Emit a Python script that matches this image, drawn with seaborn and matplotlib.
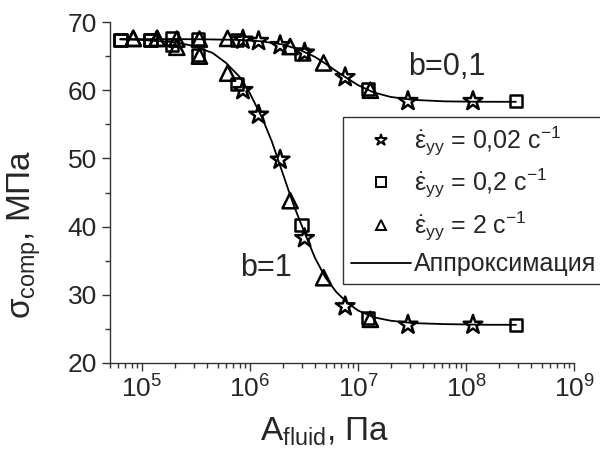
import numpy as np
import pandas as pd
import matplotlib
matplotlib.use("Agg")
import matplotlib.pyplot as plt
import matplotlib.ticker as mticker
from matplotlib.lines import Line2D
import seaborn as sns

# ---------------- data ----------------
star_x = [8.6e5, 1.2e6, 1.9e6, 3.2e6, 7.6e6, 2.9e7, 1.16e8]
star_y_b1 = [60.0, 56.4, 49.8, 38.3, 28.3, 25.6, 25.6]
star_y_b01 = [67.4, 67.2, 66.6, 65.5, 61.9, 58.4, 58.4]

square_x = [6.3e4, 1.2e5, 1.9e5, 3.3e5, 7.6e5, 3.0e6, 1.24e7, 2.9e8]
square_y_b1 = [67.4, 67.4, 66.6, 65.2, 60.9, 40.2, 26.6, 25.6]
square_y_b01 = [67.4, 67.4, 67.6, 67.5, 67.4, 65.3, 60.2, 58.4]

tri_x = [8.3e4, 1.38e5, 2.1e5, 3.4e5, 6.2e5, 2.35e6, 4.8e6, 1.3e7]
tri_y_b1 = [67.6, 67.6, 66.3, 65.0, 62.5, 43.8, 32.5, 26.4]
tri_y_b01 = [67.6, 67.6, 67.5, 67.5, 67.6, 66.4, 64.0, 60.0]

fit_x_b1 = [6.3e4, 1e5, 2e5, 3e5, 4.5e5, 6e5, 8e5, 1e6, 1.3e6, 1.6e6, 2e6, 2.5e6,
            3.2e6, 4e6, 5e6, 6.3e6, 8e6, 1e7, 1.4e7, 2e7, 3.2e7, 6.3e7, 1.6e8, 2.9e8]
fit_y_b1 = [67.45, 67.37, 67.04, 66.5, 65.47, 64.0, 61.97, 59.5, 55.9, 52.4, 47.9, 43.4,
            39.1, 35.4, 32.5, 30.4, 28.8, 27.7, 26.7, 26.2, 25.85, 25.7, 25.6, 25.6]

fit_x_b01 = [6.3e4, 3.2e5, 8e5, 1.26e6, 2e6, 2.8e6, 4e6, 5e6, 6.3e6, 8e6, 1e7,
             1.4e7, 2e7, 3.2e7, 6.3e7, 1.26e8, 2.9e8]
fit_y_b01 = [67.5, 67.48, 67.38, 67.18, 66.71, 66.01, 64.88, 63.89, 62.79, 61.71, 60.75,
             59.67, 59.02, 58.59, 58.37, 58.31, 58.3]

legend_labels = [r"$\dot{\varepsilon}_{yy}$ = 0,02 с$^{-1}$",
                 r"$\dot{\varepsilon}_{yy}$ = 0,2 с$^{-1}$",
                 r"$\dot{\varepsilon}_{yy}$ = 2 с$^{-1}$",
                 "Аппроксимация"]
x_ticks = [1e5, 1e6, 1e7, 1e8, 1e9]
y_ticks = [20, 30, 40, 50, 60, 70]

# ---------------- style ----------------
sns.set_style("ticks")
plt.rcParams["font.family"] = ["Liberation Sans", "DejaVu Sans"]
plt.rcParams["mathtext.fontset"] = "custom"
plt.rcParams["mathtext.rm"] = "Liberation Sans"
plt.rcParams["mathtext.it"] = "Liberation Sans"
plt.rcParams["mathtext.bf"] = "Liberation Sans:bold"
plt.rcParams["mathtext.sf"] = "Liberation Sans"

fig = plt.figure(figsize=(6.0, 4.59), dpi=100)
ax = fig.add_axes([0.1825, 0.2092, 0.7742, 0.7428])

# fit lines
for fx, fy in [(fit_x_b1, fit_y_b1), (fit_x_b01, fit_y_b01)]:
    sns.lineplot(x=fx, y=fy, ax=ax, color="black", lw=1.3, sort=False,
                 estimator=None, legend=False)

# markers
mk_kw = dict(facecolor="none", edgecolor="black", linewidth=1.8, legend=False, zorder=3)
for xs, ys in [(tri_x, tri_y_b1), (tri_x, tri_y_b01)]:
    sns.scatterplot(x=xs, y=ys, ax=ax, marker="^", s=120, **mk_kw)
for xs, ys in [(square_x, square_y_b1), (square_x, square_y_b01)]:
    sns.scatterplot(x=xs, y=ys, ax=ax, marker="s", s=80, **mk_kw)
for xs, ys in [(star_x, star_y_b1), (star_x, star_y_b01)]:
    sns.scatterplot(x=xs, y=ys, ax=ax, marker="*", s=200, **mk_kw)

ax.set_xscale("log")
ax.set_xlim(5e4, 1e9)
ax.set_ylim(20, 70)
ax.xaxis.set_major_locator(mticker.FixedLocator(x_ticks))
ax.xaxis.set_major_formatter(mticker.FuncFormatter(lambda v, p: r"$10^{%d}$" % round(np.log10(v))))
ax.xaxis.set_minor_locator(mticker.LogLocator(base=10, subs=np.arange(2, 10), numticks=20))
ax.yaxis.set_major_locator(mticker.FixedLocator(y_ticks))
ax.yaxis.set_minor_locator(mticker.MultipleLocator(5))

sns.despine(ax=ax)
for sp in ["left", "bottom"]:
    ax.spines[sp].set_linewidth(1.0)
    ax.spines[sp].set_color("#333333")
ax.tick_params(axis="both", which="major", direction="out", length=6, width=1.0,
               labelsize=19, color="#333333", pad=3)
ax.tick_params(axis="both", which="minor", direction="out", length=3.5, width=1.0,
               color="#333333")

ax.set_xlabel(r"A$_{\rm fluid}$, Па", fontsize=24)
ax.set_ylabel(r"$\sigma_{\rm comp}$, МПа", fontsize=24, va="center")
ax.xaxis.set_label_coords(0.464, -0.155)
ax.yaxis.set_label_coords((24 - 109.5) / 464.5, 0.378)

fig.text(266 / 600, 1 - 268 / 459, "b=1", fontsize=22, ha="center", va="center")
fig.text(447 / 600, 1 - 67 / 459, "b=0,1", fontsize=22, ha="center", va="center")

handles = [
    Line2D([], [], ls="none", marker="*", ms=9, mfc="none", mec="black", mew=1.4),
    Line2D([], [], ls="none", marker="s", ms=6.5, mfc="none", mec="black", mew=1.4),
    Line2D([], [], ls="none", marker="^", ms=7.5, mfc="none", mec="black", mew=1.4),
    Line2D([], [], color="black", lw=1.3),
]
leg = ax.legend(handles, legend_labels, loc="upper left",
                bbox_to_anchor=(343 / 600, 1 - 117 / 459), bbox_transform=fig.transFigure,
                fontsize=18, frameon=True, fancybox=False, shadow=False,
                handlelength=2.4, handletextpad=0.15, labelspacing=0.38,
                borderpad=0.3, borderaxespad=0)
leg.get_frame().set_edgecolor("#333333")
leg.get_frame().set_linewidth(1.0)
leg.get_frame().set_alpha(1)

fig.savefig("out.png", dpi=100)
